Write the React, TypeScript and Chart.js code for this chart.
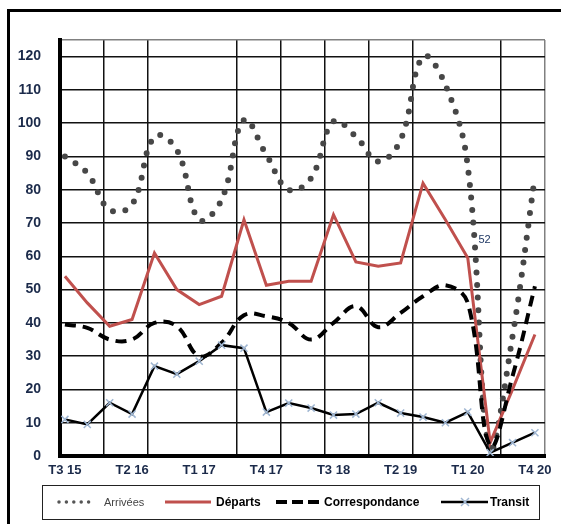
import React, { useEffect, useRef } from 'react';
import { Chart, registerables } from 'chart.js';
Chart.register(...registerables);

const categories = ['T3 15','T4 15','T1 16','T2 16','T3 16','T4 16','T1 17','T2 17','T3 17','T4 17','T1 18','T2 18','T3 18','T4 18','T1 19','T2 19','T3 19','T4 19','T1 20','T2 20','T3 20','T4 20'];
const arrivees = [90, 85, 74, 75.5, 96, 92, 71, 77, 101, 90.5, 80, 83.5, 100.5, 96, 88.5, 95, 120, 111.5, 87, 1, 36, 84];
const departs = [54, 46, 39, 41, 61, 50, 45.5, 48, 71, 51.3, 52.5, 52.5, 72.5, 58.3, 57, 58, 82, 71, 59.5, 4, 20, 36.5];
const correspondance = [39.5, 38.5, 35, 35, 40, 39, 30, 34, 42.3, 42, 40, 35, 40, 45, 38.7, 43, 48, 51.3, 46, 3, 24, 51];
const transit = [11, 9.5, 16, 12.6, 27, 24.6, 28.5, 33.3, 32.4, 13.2, 15.9, 14.4, 12.3, 12.6, 16, 12.9, 11.7, 10, 13.2, 1, 4, 7];
const labelEvery = 3;
const noteText = '52';
const noteAt = { x: 18.75, y: 65 };

const toPoints = (arr: number[]) => arr.map((v, i) => ({ x: i, y: v }));

const FONT = '"Liberation Sans", Arial, sans-serif';

export default function App() {
  const ref = useRef<HTMLCanvasElement | null>(null);

  useEffect(() => {
    if (!ref.current) return;
    const notePlugin = {
      id: 'note',
      afterDatasetsDraw(chart: any) {
        const { ctx, scales } = chart;
        ctx.save();
        ctx.font = `11px ${FONT}`;
        ctx.fillStyle = '#1f3864';
        ctx.textAlign = 'center';
        ctx.textBaseline = 'middle';
        ctx.fillText(noteText, scales.x.getPixelForValue(noteAt.x), scales.y.getPixelForValue(noteAt.y));
        ctx.restore();
      },
    };
    const chart = new Chart(ref.current, {
      type: 'line',
      data: {
        datasets: [
          {
            label: 'Arrivées',
            data: toPoints(arrivees),
            borderColor: '#474747',
            borderWidth: 6,
            borderDash: [0, 12.5],
            borderCapStyle: 'round',
            tension: 0.4,
            pointRadius: 0,
            order: 3,
          },
          {
            label: 'Départs',
            data: toPoints(departs),
            borderColor: '#c0504d',
            borderWidth: 3,
            tension: 0,
            pointRadius: 0,
            order: 2,
          },
          {
            label: 'Correspondance',
            data: toPoints(correspondance),
            borderColor: '#000',
            borderWidth: 4,
            borderDash: [11, 7],
            tension: 0.4,
            pointRadius: 0,
            order: 1,
          },
          {
            label: 'Transit',
            data: toPoints(transit),
            borderColor: '#000',
            borderWidth: 2.5,
            tension: 0,
            pointStyle: 'crossRot',
            pointRadius: 5,
            pointBorderColor: '#9fb6d2',
            pointBorderWidth: 1.5,
            order: 0,
          },
        ],
      } as any,
      options: {
        animation: false,
        responsive: false,
        layout: { padding: { left: 0, right: 16, top: 40, bottom: 44 } },
        plugins: { legend: { display: false }, tooltip: { enabled: false } },
        scales: {
          x: {
            type: 'linear',
            position: 'bottom',
            min: -0.22,
            max: 21.45,
            afterFit: (s: any) => { s.height = 24; },
            afterBuildTicks: (s: any) => {
              const t = [];
              for (let i = 0; i < categories.length; i += labelEvery) t.push({ value: i });
              s.ticks = t;
            },
            grid: { display: false, drawTicks: false },
            border: { display: true, color: '#000', width: 4 },
            ticks: {
              autoSkip: false,
              maxRotation: 0,
              padding: 7,
              color: '#1b2a4a',
              font: { family: FONT, size: 13, weight: 'bold' },
              callback: (v: any) => categories[v] ?? '',
            },
          },
          x2: {
            type: 'linear',
            position: 'top',
            min: 0,
            max: 11,
            afterFit: (s: any) => { s.height = 0; },
            ticks: { display: false, stepSize: 1 },
            border: { display: false },
            grid: {
              drawTicks: false,
              lineWidth: 1.5,
              color: (c: any) => {
                const v = c.tick?.value;
                if (v === 0 || v === 3 || v === 9) return 'rgba(0,0,0,0)';
                if (v === 11) return '#808080';
                return '#111';
              },
            },
          },
          y: {
            type: 'linear',
            min: 0,
            max: 125,
            afterFit: (s: any) => { s.width = 60; },
            border: { display: true, color: '#000', width: 4 },
            grid: {
              drawTicks: false,
              lineWidth: 1.5,
              color: (c: any) => (c.tick?.value === 125 ? '#808080' : '#111'),
            },
            ticks: {
              stepSize: 10,
              padding: 19,
              color: '#1b2a4a',
              font: { family: FONT, size: 14, weight: 'bold' },
              callback: (v: any) => (v % 10 === 0 ? String(v) : ''),
            },
          },
        },
      } as any,
      plugins: [notePlugin],
    });
    return () => chart.destroy();
  }, []);

  const legendText = (bold: boolean, color: string): React.CSSProperties => ({
    position: 'absolute',
    top: 0,
    height: 32,
    lineHeight: '32px',
    fontFamily: FONT,
    fontSize: bold ? 12 : 11,
    fontWeight: bold ? 'bold' : 'normal',
    color,
    whiteSpace: 'nowrap',
  });

  return (
    <div style={{ position: 'fixed', left: 0, top: 0, width: 561, height: 524, overflow: 'hidden', background: '#fff' }}>
      <div style={{ position: 'absolute', left: 7, top: 9, width: 3, height: 515, background: '#000' }} />
      <div style={{ position: 'absolute', left: 7, top: 9, width: 554, height: 3, background: '#000' }} />
      <canvas ref={ref} width={561} height={524} style={{ position: 'absolute', left: 0, top: 0 }} />
      <div style={{ position: 'absolute', left: 42, top: 485, width: 498, height: 35, border: '1.5px solid #222', boxSizing: 'border-box' }}>
        <svg width={495} height={32} style={{ position: 'absolute', left: 0, top: 0 }}>
          <line x1={16} y1={16} x2={53} y2={16} stroke="#555" strokeWidth={3.5} strokeDasharray="0 7.4" strokeLinecap="round" />
          <line x1={122} y1={16} x2={168} y2={16} stroke="#c0504d" strokeWidth={3} />
          <line x1={233} y1={16} x2={276} y2={16} stroke="#000" strokeWidth={4} strokeDasharray="11 5" />
          <line x1={398} y1={16} x2={445} y2={16} stroke="#000" strokeWidth={2.5} />
          <line x1={418} y1={12} x2={426} y2={20} stroke="#9fb6d2" strokeWidth={1.5} />
          <line x1={426} y1={12} x2={418} y2={20} stroke="#9fb6d2" strokeWidth={1.5} />
        </svg>
        <span style={{ ...legendText(false, '#444'), left: 61 }}>Arrivées</span>
        <span style={{ ...legendText(true, '#000'), left: 173 }}>Départs</span>
        <span style={{ ...legendText(true, '#000'), left: 281 }}>Correspondance</span>
        <span style={{ ...legendText(true, '#000'), left: 447 }}>Transit</span>
      </div>
    </div>
  );
}
